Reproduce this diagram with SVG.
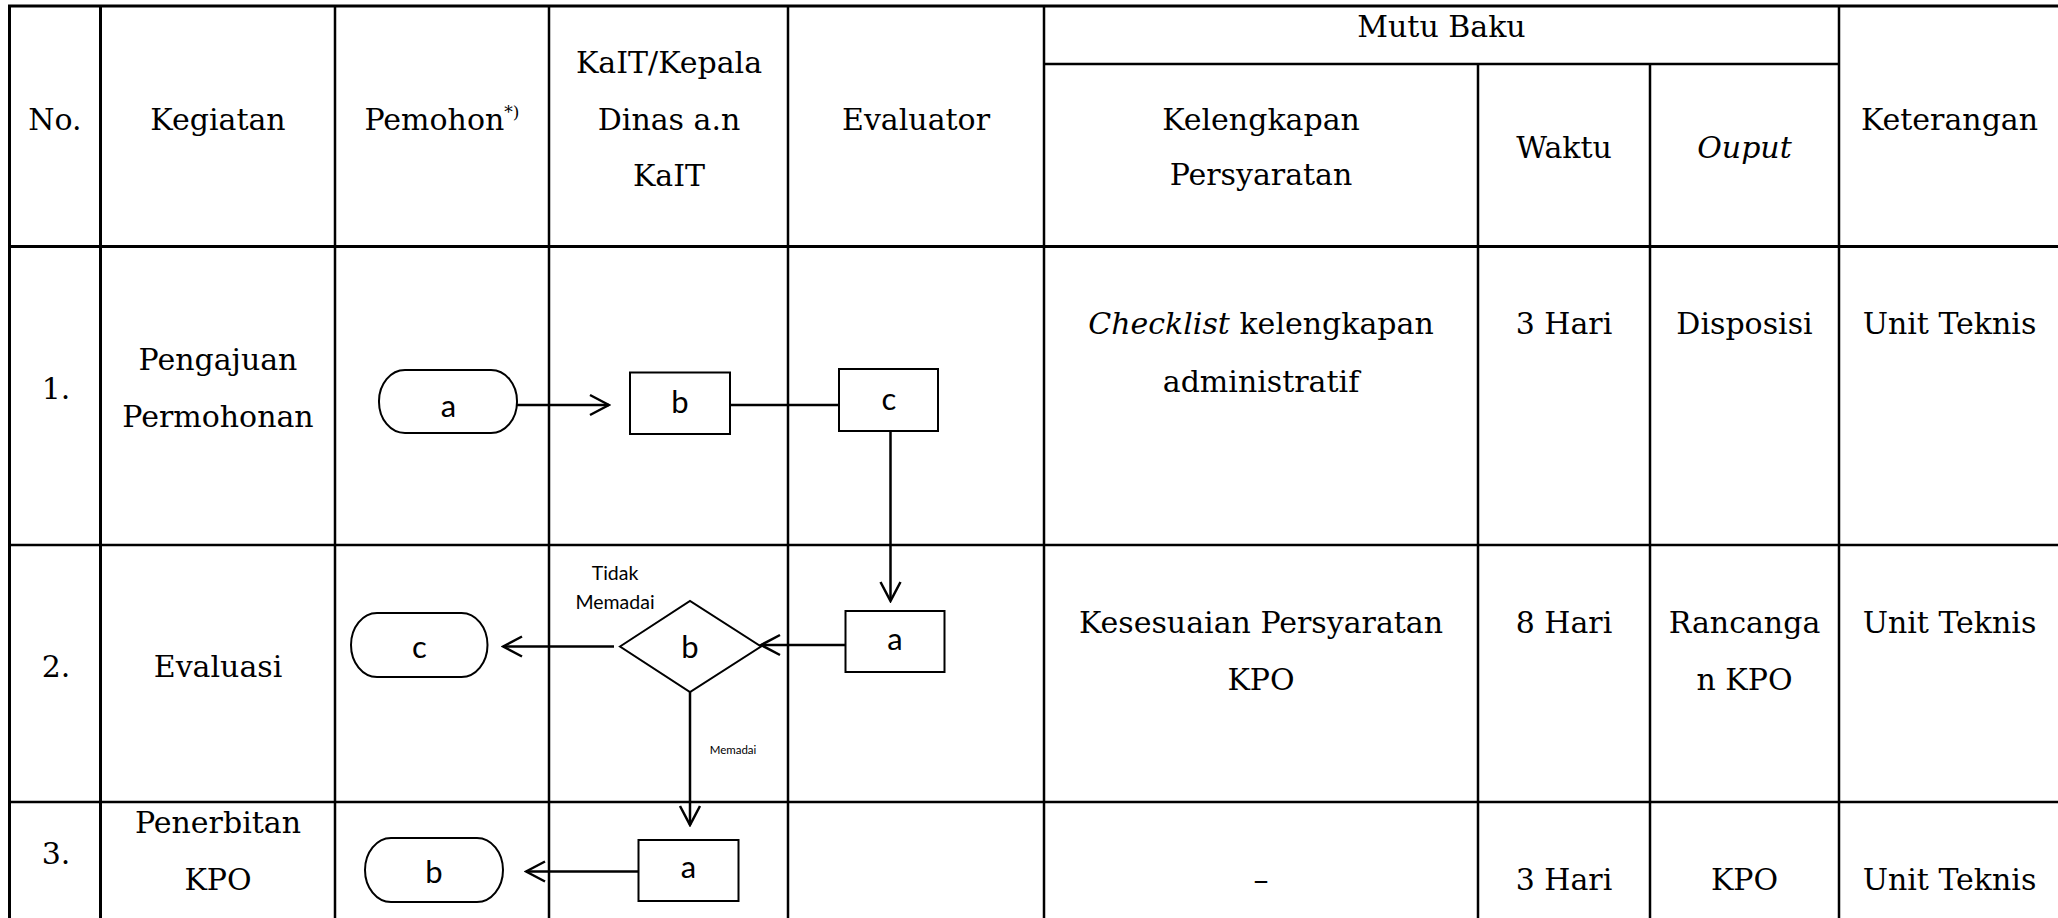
<svg xmlns="http://www.w3.org/2000/svg" width="2058" height="918" viewBox="0 0 2058 918">
  <defs>
    <style>
      .grid { stroke: #000; stroke-width: 2.5; fill: none; }
      .thick { stroke: #000; stroke-width: 3; fill: none; }
      .cell { font-family: "DejaVu Serif", "Liberation Serif", serif; font-size: 30px; fill: #000; text-anchor: middle; }
      .it { font-style: italic; }
      .shape { fill: #fff; stroke: #000; stroke-width: 2; }
      .lbl { font-family: "Lato", "Liberation Sans", sans-serif; font-size: 31px; fill: #000; text-anchor: middle; }
      .note { font-family: "Lato", "Liberation Sans", sans-serif; font-size: 19.5px; fill: #000; text-anchor: middle; }
      .small { font-family: "Lato", "Liberation Sans", sans-serif; font-size: 11.5px; fill: #000; text-anchor: middle; }
      .conn { stroke: #000; stroke-width: 2.5; fill: none; }
    </style>
    <marker id="arrow" markerUnits="userSpaceOnUse" viewBox="0 0 24 24" markerWidth="24" markerHeight="24" refX="22" refY="12" orient="auto">
      <path d="M3,2 L22,12 L3,22" fill="none" stroke="#000" stroke-width="2.5"/>
    </marker>
  </defs>
  <rect x="0" y="0" width="2058" height="918" fill="#fff"/>

  <g id="table">
    <line class="thick" x1="8" y1="6" x2="2060" y2="6"/>
    <line class="thick" x1="8" y1="246.5" x2="2060" y2="246.5"/>
    <line class="grid" x1="1044" y1="64" x2="1839" y2="64"/>
    <line class="grid" x1="8" y1="545" x2="2060" y2="545"/>
    <line class="grid" x1="8" y1="802" x2="2060" y2="802"/>
    <line class="thick" x1="9.5" y1="5" x2="9.5" y2="918"/>
    <line class="thick" x1="100.5" y1="5" x2="100.5" y2="918"/>
    <line class="grid" x1="335" y1="5" x2="335" y2="918"/>
    <line class="grid" x1="549" y1="5" x2="549" y2="918"/>
    <line class="grid" x1="788" y1="5" x2="788" y2="918"/>
    <line class="grid" x1="1044" y1="5" x2="1044" y2="918"/>
    <line class="grid" x1="1478" y1="64" x2="1478" y2="918"/>
    <line class="grid" x1="1650" y1="64" x2="1650" y2="918"/>
    <line class="grid" x1="1839" y1="5" x2="1839" y2="918"/>
  </g>

  <g id="header">
    <text class="cell" x="55" y="129.5">No.</text>
    <text class="cell" x="218" y="129.5">Kegiatan</text>
    <text class="cell" x="442" y="129.5">Pemohon<tspan font-size="17" dy="-12">*)</tspan></text>
    <text class="cell" x="669" y="73">KaIT/Kepala</text>
    <text class="cell" x="669" y="129.5">Dinas a.n</text>
    <text class="cell" x="669" y="186">KaIT</text>
    <text class="cell" x="916" y="129.5">Evaluator</text>
    <text class="cell" x="1441.5" y="37">Mutu Baku</text>
    <text class="cell" x="1261" y="129.5">Kelengkapan</text>
    <text class="cell" x="1261" y="185">Persyaratan</text>
    <text class="cell" x="1564" y="158">Waktu</text>
    <text class="cell it" x="1744.5" y="158">Ouput</text>
    <text class="cell" x="1949.5" y="129.5">Keterangan</text>
  </g>

  <g id="row1-text">
    <text class="cell" x="56" y="399">1.</text>
    <text class="cell" x="218" y="370">Pengajuan</text>
    <text class="cell" x="218" y="427">Permohonan</text>
    <text class="cell" x="1261" y="334"><tspan class="it">Checklist</tspan> kelengkapan</text>
    <text class="cell" x="1261" y="392">administratif</text>
    <text class="cell" x="1564" y="334">3 Hari</text>
    <text class="cell" x="1744.5" y="334">Disposisi</text>
    <text class="cell" x="1949.5" y="334">Unit Teknis</text>
  </g>

  <g id="row2-text">
    <text class="cell" x="56" y="677">2.</text>
    <text class="cell" x="218" y="677">Evaluasi</text>
    <text class="cell" x="1261" y="633">Kesesuaian Persyaratan</text>
    <text class="cell" x="1261" y="690">KPO</text>
    <text class="cell" x="1564" y="633">8 Hari</text>
    <text class="cell" x="1744.5" y="633">Rancanga</text>
    <text class="cell" x="1744.5" y="690">n KPO</text>
    <text class="cell" x="1949.5" y="633">Unit Teknis</text>
  </g>

  <g id="row3-text">
    <text class="cell" x="56" y="864">3.</text>
    <text class="cell" x="218" y="833">Penerbitan</text>
    <text class="cell" x="218" y="890">KPO</text>
    <text class="cell" x="1261" y="890">–</text>
    <text class="cell" x="1564" y="890">3 Hari</text>
    <text class="cell" x="1744.5" y="890">KPO</text>
    <text class="cell" x="1949.5" y="890">Unit Teknis</text>
  </g>

  <g id="connectors">
    <line class="conn" x1="517" y1="405" x2="609" y2="405" marker-end="url(#arrow)"/>
    <line class="conn" x1="731" y1="405" x2="839" y2="405"/>
    <line class="conn" x1="890.5" y1="431" x2="890.5" y2="601" marker-end="url(#arrow)"/>
    <line class="conn" x1="845" y1="645" x2="761" y2="645" marker-end="url(#arrow)"/>
    <line class="conn" x1="614" y1="646.5" x2="503" y2="646.5" marker-end="url(#arrow)"/>
    <line class="conn" x1="690" y1="692" x2="690" y2="825" marker-end="url(#arrow)"/>
    <line class="conn" x1="638.5" y1="871.5" x2="526" y2="871.5" marker-end="url(#arrow)"/>
    <text class="note" x="615" y="580">Tidak</text>
    <text class="note" x="615" y="609">Memadai</text>
    <text class="small" x="733" y="754">Memadai</text>
  </g>

  <g id="node-r1-a">
    <rect class="shape" x="379" y="370" width="138" height="63" rx="26" ry="31"/>
    <text class="lbl" x="448.5" y="416.5">a</text>
  </g>
  <g id="node-r1-b">
    <rect class="shape" x="630" y="372.5" width="100" height="61.5"/>
    <text class="lbl" x="680" y="413">b</text>
  </g>
  <g id="node-r1-c">
    <rect class="shape" x="839" y="369" width="99" height="62"/>
    <text class="lbl" x="889" y="410">c</text>
  </g>

  <g id="node-r2-a">
    <rect class="shape" x="845.5" y="611" width="99" height="61"/>
    <text class="lbl" x="895" y="650">a</text>
  </g>
  <g id="node-r2-b">
    <polygon class="shape" points="620,646.5 690,601 761,646.5 690,692"/>
    <text class="lbl" x="690" y="658">b</text>
  </g>
  <g id="node-r2-c">
    <rect class="shape" x="351" y="613" width="136.5" height="64" rx="26" ry="32"/>
    <text class="lbl" x="419.5" y="658">c</text>
  </g>

  <g id="node-r3-a">
    <rect class="shape" x="638.5" y="840" width="100" height="61"/>
    <text class="lbl" x="688.5" y="878">a</text>
  </g>
  <g id="node-r3-b">
    <rect class="shape" x="365" y="838" width="138" height="64" rx="26" ry="32"/>
    <text class="lbl" x="434" y="883">b</text>
  </g>
</svg>
